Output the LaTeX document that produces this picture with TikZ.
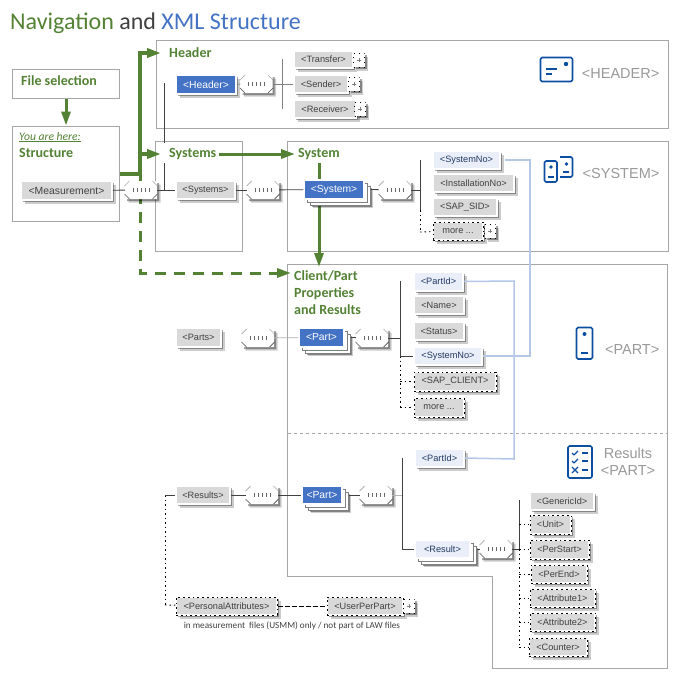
\documentclass[tikz,border=0pt]{standalone}
\usepackage{fontspec}
\setmainfont{Carlito}
\newfontfamily\arialf{Liberation Sans}
\usetikzlibrary{shapes.misc,shadows,arrows.meta}
\definecolor{grn}{HTML}{548235}
\definecolor{blu}{HTML}{4472C4}
\definecolor{lnk}{HTML}{B4C7E7}
\definecolor{ico}{HTML}{0B4EA2}
\definecolor{frm}{HTML}{A6A6A6}
\definecolor{eltx}{HTML}{404040}
\tikzset{
 frame/.style={draw=frm,line width=1pt},
 shd/.style={drop shadow={shadow xshift=3.5pt,shadow yshift=-3.5pt,fill=black,opacity=.2},
             drop shadow={shadow xshift=2.2pt,shadow yshift=-2.2pt,fill=black,opacity=.35}},
 elembase/.style={rectangle,inner sep=0pt,font=\arialf\fontsize{9.2}{11}\selectfont},
 elem/.style={elembase,shd,fill=black!15,draw=white,line width=1.5pt,text=eltx},
 lite/.style={elembase,shd,fill=blu!12,draw=white,line width=1.5pt,text=blu!50!black},
 main/.style={elembase,shd,fill=blu,draw=white,line width=1.5pt,text=white,font=\arialf\fontsize{10.3}{12}\selectfont},
 stk/.style={drop shadow={shadow xshift=8.5pt,shadow yshift=-8.5pt,fill=black,opacity=.2},
   drop shadow={shadow xshift=7.5pt,shadow yshift=-7.5pt,fill=black,opacity=.35},
   copy shadow={shadow xshift=6pt,shadow yshift=-6pt,fill=white,draw=gray,line width=.5pt},
   copy shadow={shadow xshift=3pt,shadow yshift=-3pt,fill=white,draw=gray,line width=.5pt}},
 mainstk/.style={elembase,stk,fill=blu,draw=white,line width=1.5pt,text=white,font=\arialf\fontsize{10.3}{12}\selectfont},
 litestk/.style={elembase,stk,fill=blu!12,draw=white,line width=1.5pt,text=blu!50!black},
 opt/.style={elem,postaction={draw=black,line width=.9pt,dash pattern=on 1.8pt off 3pt}},
 plusbox/.style={rectangle,inner sep=0pt,minimum width=11pt,minimum height=14pt,fill=white,shd,draw=black,line width=.7pt,dash pattern=on 1pt off 4pt,
   path picture={\draw[gray,line width=.5pt,solid] (path picture bounding box.center)++(-2,0)--++(4,0) (path picture bounding box.center)++(0,-2)--++(0,4);}},
 seqbox/.style={chamfered rectangle,chamfered rectangle xsep=5pt,chamfered rectangle ysep=5pt,inner sep=0pt,minimum width=32pt,minimum height=18pt,fill=white,shd},
 conn/.style={draw=eltx,line width=.8pt},
 faint/.style={draw=gray!60,line width=.8pt},
 dotl/.style={draw=black,line width=.9pt,dash pattern=on 1.5pt off 3pt},
 dashl/.style={draw=black,line width=.8pt,dash pattern=on 5pt off 2pt},
 grnl/.style={draw=grn,line width=#1},
 arr/.style={-{Triangle[length=14pt,width=9pt]}},
 lnkl/.style={draw=lnk,line width=1.5pt},
 ttl/.style={font=\bfseries\fontsize{14}{16}\selectfont,text=grn,anchor=west,inner sep=0pt},
 big/.style={font=\arialf\fontsize{14.5}{17}\selectfont,text=gray!80,inner sep=0pt},
 icol/.style={draw=ico,line width=1.6pt,line join=round},
}
\newcommand{\el}[7]{%
 \pgfmathsetmacro\elW{#4-#3}\pgfmathsetmacro\elH{#6-#5}%
 \pgfmathsetmacro\elX{(#3+#4)/2}\pgfmathsetmacro\elY{(#5+#6)/2}%
 \node[#1,minimum width=\elW pt,minimum height=\elH pt] (#2) at (\elX,\elY) {#7};}
\newcommand{\seq}[3]{%
 \node[seqbox] (#1) at (#2,#3) {};
 \foreach \dx in {-8,-4,0,4,8}{\draw[black!60,line width=.6pt] ([xshift=\dx pt,yshift=-1.5pt]#1.center) -- ([xshift=\dx pt,yshift=2pt]#1.center);}
 \draw[gray!70,line width=.7pt] ([shift={(-16.5pt,4pt)}]#1.center) -- ([shift={(-11.5pt,9pt)}]#1.center)
   ([shift={(16.5pt,4pt)}]#1.center) -- ([shift={(11.5pt,9pt)}]#1.center);
 \draw[black!70,line width=.7pt] ([shift={(-16.5pt,-4pt)}]#1.center) -- ([shift={(-11.5pt,-9pt)}]#1.center)
   ([shift={(16.5pt,-4pt)}]#1.center) -- ([shift={(11.5pt,-9pt)}]#1.center);}
\begin{document}
\begin{tikzpicture}[x=1pt,y=-1pt]
\useasboundingbox (0,0) rectangle (680,680);
\fill[white] (0,0) rectangle (680,680);
% title
\node[anchor=base west,inner sep=0pt,font=\fontsize{24}{28}\selectfont] (title) at (10,29)
  {\textcolor{grn}{Navigation} \textcolor{black!75}{and} \textcolor{blu}{XML Structure}};
% frames
\draw[frame] (156,40.5) rectangle (668,128);
\draw[frame] (155,141) rectangle (242,251);
\draw[frame] (287.5,141) rectangle (668,251);
\draw[frame] (287.5,264) -- (667,264) -- (667,668) -- (492,668) -- (492,576) -- (287.5,576) -- cycle;
\draw[frm,line width=.8pt,dashed] (287.5,433) -- (667,433);
\node[draw=frm,line width=1pt,minimum width=107pt,minimum height=29pt,inner sep=0pt] (filesel) at (65.5,83.5) {};
\node[draw=frm,line width=1pt,minimum width=107pt,minimum height=95pt,inner sep=0pt] (struct) at (65.5,173.5) {};
% green nav titles
\node[ttl] (tHeader) at (169,53) {Header};
\node[ttl] (tSystems) at (169,154) {Systems};
\node[ttl] (tSystem) at (298,154) {System};
\node[ttl,align=left,font=\bfseries\fontsize{14}{17}\selectfont] (tPart) at (294,293) {Client/Part\\Properties\\and Results};
\node[ttl] (tFile) at (21,81) {File selection};
\node[anchor=west,inner sep=0pt,font=\itshape\fontsize{11.6}{13}\selectfont,text=grn] (here) at (19,137) {You are here:};
\draw[grn,line width=.5pt] (here.south west) -- (here.south east);
\node[ttl] (tStruct) at (19,153) {Structure};
% black line hidden behind Systems title
\coordinate (navTop) at (164.5,83);
\coordinate (navGap) at (164.5,143);
\coordinate (navRes) at (164.5,163);
\coordinate (navBot) at (164.5,190);
\draw[conn] (navTop) -- (navGap) (navRes) -- (navBot);
% green arrows
\coordinate (g0) at (140,174);
\coordinate (g1) at (140,53);
\coordinate (g2) at (140,154);
\coordinate (g3) at (140,273);
\draw[grnl=3pt,arr] (filesel.south -| tFile.west) ++(45,0) -- ++(0,27);
\draw[grnl=4pt] (struct.east |- g0) -- (g0);
\draw[grnl=4pt,arr,shorten >=8pt] (g0) -- (g1) -- (tHeader.west);
\draw[grnl=4pt,arr,shorten >=8pt] (g2) -- (tSystems.west);
\draw[grnl=3pt,dash pattern=on 11pt off 8pt] (g0) -- (g3) -- (275,273);
\draw[grnl=3pt,arr] (275,273) -- (291,273);
\draw[grnl=3pt,arr,shorten >=3pt] (tSystems.east) ++(3,0) -- (tSystem.west);
\coordinate (sysdown) at (319,163);
\coordinate (sysend) at (319,267);
\draw[grnl=3pt,arr] (sysdown) -- (sysend);
% bars
\coordinate (bH1) at (282,59); \coordinate (bH2) at (282,109); \coordinate (bHm) at (282,84);
\coordinate (bS1) at (420,160); \coordinate (bSm) at (420,190); \coordinate (bS2) at (420,210); \coordinate (bS3) at (420,232);
\coordinate (bP1) at (400,281); \coordinate (bPm) at (400,338); \coordinate (bP2) at (400,356); \coordinate (bP3) at (400,407); \coordinate (bPc) at (400,381);
\coordinate (bR1) at (402,458); \coordinate (bRm) at (402,495); \coordinate (bR2) at (402,549);
\coordinate (bC1) at (519,500); \coordinate (bC2) at (519,549); \coordinate (bC3) at (519,646);
\coordinate (bL1) at (165,495); \coordinate (bL2) at (165,605);
\draw[conn,draw=gray] (bH1) -- (bH2);
\draw[conn] (bS1) -- (bS2); \draw[dotl] (bS2) -- (bS3);
\draw[conn] (bP1) -- (bP2); \draw[dotl] (bP2) -- (bP3);
\draw[conn] (bR1) -- (bR2);
\draw[conn] (bC1) -- (bC2); \draw[dotl] (bC2) -- (bC3);
\draw[dotl] (bL1) -- (bL2);
% elements
\el{elem}{meas}{21}{112}{181}{200}{\fontsize{10.4}{12}\selectfont <Measurement>}
\el{elem}{systems}{176}{235}{181}{199}{<Systems>}
\el{main}{header}{176}{236}{75}{94}{<Header>}
\el{elem}{transfer}{294}{353}{51}{68}{<Transfer>}
\el{elem}{sender}{294}{348}{75}{93}{<Sender>}
\el{elem}{receiver}{294}{356}{100}{118}{<Receiver>}
\node[plusbox] (pTr) at (359,60) {};
\node[plusbox] (pSe) at (354,84) {};
\node[plusbox] (pRe) at (360,109) {};
\el{mainstk}{system}{304}{364}{180}{199}{<System>}
\el{lite}{sysno}{433}{500}{151}{169}{<SystemNo>}
\el{elem}{instno}{433}{514}{174}{192}{<InstallationNo>}
\el{elem}{sapsid}{433}{497}{198}{216}{<SAP\_SID>}
\el{opt}{more1}{433}{483}{222}{240}{more ...}
\node[plusbox] (pMo) at (490,231) {};
\el{elem}{parts}{176}{221}{328}{347}{<Parts>}
\el{mainstk}{part1}{299}{344}{328}{347}{<Part>}
\el{lite}{partid1}{414}{463}{272}{291}{<PartId>}
\el{elem}{name}{414}{464}{296}{314}{<Name>}
\el{elem}{status}{414}{464}{322}{340}{<Status>}
\el{lite}{sysno2}{414}{482}{347}{365}{<SystemNo>}
\el{opt}{sapcl}{414}{496}{372}{391}{<SAP\_CLIENT>}
\el{opt}{more2}{414}{464}{398}{417}{more ...}
\el{elem}{results}{176}{230}{486}{504}{<Results>}
\el{mainstk}{part2}{302}{342}{486}{504}{<Part>}
\el{lite}{partid2}{415}{464}{449}{467}{<PartId>}
\el{litestk}{result}{415}{470}{540}{558}{<Result>}
\el{elem}{generic}{530}{594}{492}{510}{<GenericId>}
\el{opt}{unit}{530}{571}{515}{534}{<Unit>}
\el{opt}{perstart}{530}{589}{540}{559}{<PerStart>}
\el{opt}{perend}{531}{587}{565}{583}{<PerEnd>}
\el{opt}{attr1}{530}{595}{589}{607}{<Attribute1>}
\el{opt}{attr2}{530}{595}{613}{631}{<Attribute2>}
\el{opt}{counter}{529}{587}{638}{656}{<Counter>}
\el{opt}{persattr}{176}{277}{597}{615}{<PersonalAttributes>}
\el{opt}{userpp}{327}{403}{597}{615}{<UserPerPart>}
\node[plusbox] (pUs) at (409,606) {};
\node[inner sep=0pt,font=\fontsize{9.2}{11}\selectfont,text=eltx] (cap) at (292,626) {in measurement\ \ files (USMM) only / not part of LAW files};
% sequence symbols
\seq{s1}{141}{190}
\seq{s2}{263}{190}
\seq{s3}{395}{190}
\seq{sH}{256.5}{84}
\seq{s4}{258}{338}
\seq{s5}{372}{338}
\seq{s6}{262}{495}
\seq{s7}{376}{495}
\seq{s8}{496}{549}
% connectors
\draw[conn] (meas) -- (s1);
\draw[conn] (s1) -- (systems);
\draw[conn] (systems) -- (s2);
\draw[conn] (s2) -- (system);
\draw[conn] (system.east) ++(6,0) -- (s3);
\draw[conn] (s3) -- (bSm);
\draw[conn,draw=gray] (header) -- (sH);
\draw[conn,draw=gray] (sH) -- (sender);
\draw[dotl] (bS3) -- (more1);
\draw[faint] (s4) -- (part1);
\draw[conn] (part1.east) ++(6,0) -- (s5);
\draw[conn] (s5) -- (bPm);
\draw[conn] (bP2) -- (sysno2);
\draw[dotl] (bPc) -- (sapcl.west |- bPc);
\draw[dotl] (bP3) -- (more2.west |- bP3);
\draw[conn] (results) -- (s6);
\draw[conn] (bL1) -- (results);
\draw[dotl] (bL2) -- (persattr);
\draw[conn] (s6) -- (part2);
\draw[conn] (part2.east) ++(6,0) -- (s7);
\draw[faint] (s7) -- (bRm);
\draw[conn] (bR2) -- (result);
\draw[conn] (result.east) ++(6,0) -- (s8);
\draw[conn] (s8) -- (bC2);
\draw[dashl] (persattr) -- (userpp);
\foreach \n in {unit,perstart,perend,attr1,attr2,counter}{\draw[dotl] (bC1 |- \n.west) -- (\n.west);}
% blue links
\coordinate (l1) at (530,160);
\coordinate (l2) at (530,356);
\coordinate (l3) at (514,281);
\coordinate (l4) at (514,459);
\draw[lnkl] (sysno.east) ++(4,0) -- (l1) -- (l2) -- (sysno2.east);
\draw[lnkl] (partid1.east) -- (l3) -- (l4) -- (partid2.east);
% big labels
\node[big,anchor=east] (bigH) at (659.5,74) {<HEADER>};
\node[big,anchor=east] (bigS) at (659.5,174) {<SYSTEM>};
\node[big,anchor=east] (bigP) at (659.5,350) {<PART>};
\node[big,align=center] (bigR) at (628,462) {Results\\<PART>};
% icons
\draw[icol,rounded corners=1.5pt] (540.5,57.5) rectangle (572.5,81.5);
\draw[icol] (546,69) -- (557,69) (546,74) -- (552,74);
\fill[ico] (566,64) circle (2.2pt);
% system icon
\draw[icol,rounded corners=1.5pt] (544.5,161) rectangle (557,182);
\fill[ico] (551,167) circle (1.9pt);
\draw[icol] (548,177) -- (554,177);
\draw[icol,rounded corners=1.5pt] (560,157) -- (572.5,157) -- (572.5,177) -- (560,177);
\fill[ico] (566.5,164) circle (1.9pt);
\draw[icol] (563,172) -- (569,172);
% part icon
\draw[icol,rounded corners=1.5pt] (576.5,327.5) rectangle (592.5,359);
\fill[ico] (584.5,334) circle (2pt);
\draw[icol] (581,353) -- (588,353);
% results icon
\draw[icol,rounded corners=1.5pt] (568,446) rectangle (592,478);
\draw[icol,line width=1.2pt] (572,453) -- (574,455) -- (578,451) (572,461) -- (574,463) -- (578,459) (572,467) -- (578,473) (578,467) -- (572,473);
\draw[icol] (582,453) -- (588,453) (582,461) -- (588,461) (582,470) -- (588,470);
\end{tikzpicture}
\end{document}
